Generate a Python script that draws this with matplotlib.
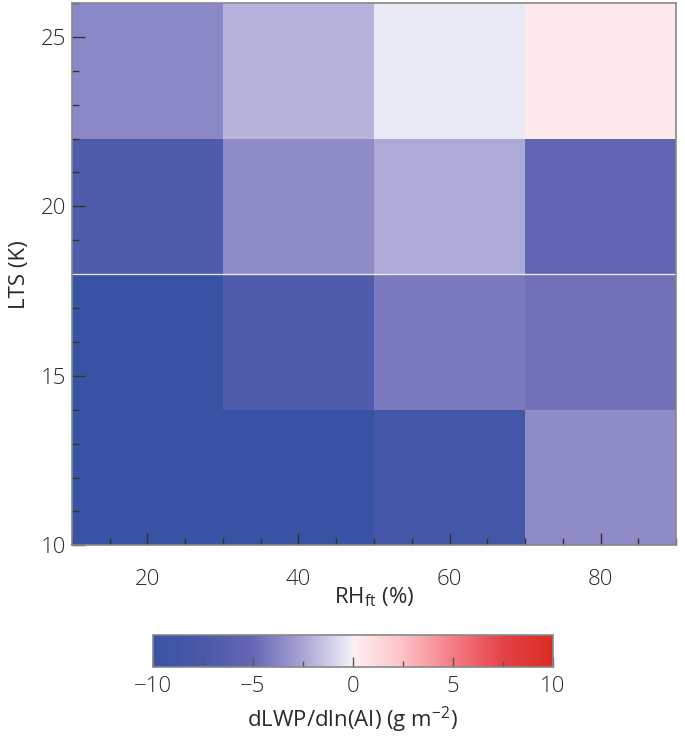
import numpy as np
import matplotlib
matplotlib.use("Agg")
import matplotlib.pyplot as plt
from matplotlib.colors import LinearSegmentedColormap, Normalize
from matplotlib.ticker import MultipleLocator

plt.rcParams['font.family'] = ['Open Sans', 'DejaVu Sans']
plt.rcParams['font.weight'] = 'light'
plt.rcParams['mathtext.fontset'] = 'custom'
plt.rcParams['mathtext.rm'] = 'Open Sans:light'

# Data
rh_edges = [10, 30, 50, 70, 90]          # RH_ft (%) bin edges
lts_edges = [10, 14, 18, 22, 26]         # LTS (K) bin edges
# rows: LTS bins from bottom (10-14) to top (22-26); columns: RH bins
sensitivity = [
    [-10.0, -10.0, -8.5, -3.5],
    [-10.0, -7.0, -4.2, -4.6],
    [-7.0, -3.5, -2.3, -5.2],
    [-3.6, -2.0, -0.3, 0.4],
]
x_ticks = [20, 40, 60, 80]
y_ticks = [10, 15, 20, 25]
cbar_ticks = [-10, -5, 0, 5, 10]

cmap_nodes = [
    (0.000, '#3953a4'),
    (0.125, '#4a58a9'),
    (0.250, '#6666b3'),
    (0.375, '#a8a4d5'),
    (0.497, '#f0eff8'),
    (0.503, '#fdeff2'),
    (0.625, '#fbc2c6'),
    (0.750, '#f47d85'),
    (0.875, '#e4424a'),
    (1.000, '#da2c22'),
]
cmap = LinearSegmentedColormap.from_list('bwr_custom', cmap_nodes, N=512)
norm = Normalize(vmin=-10, vmax=10)

fs = 16
tc = '#2a2a2a'
fig = plt.figure(figsize=(6.85, 7.45), dpi=100)
ax = fig.add_axes([0.105, 0.268, 0.882, 0.728])
mesh = ax.pcolormesh(rh_edges, lts_edges, np.array(sensitivity), cmap=cmap, norm=norm)
ax.axhline(18, color='white', lw=1.0, alpha=0.85)
ax.set_xlim(10, 90)
ax.set_ylim(10, 26)
ax.set_xticks(x_ticks)
ax.set_yticks(y_ticks)
ax.xaxis.set_minor_locator(MultipleLocator(5))
ax.yaxis.set_minor_locator(MultipleLocator(1))
ax.tick_params(which='both', direction='in', color='#333333', labelsize=fs, labelcolor=tc)
ax.tick_params(which='major', length=9, width=1)
ax.tick_params(which='minor', length=5, width=1)
ax.tick_params(axis='x', pad=17)
ax.tick_params(axis='y', pad=4)
for s in ax.spines.values():
    s.set_color('#888888')
    s.set_linewidth(1.2)
ax.set_xlabel('RH$_{\\mathregular{ft}}$ (%)', fontsize=fs, color=tc, labelpad=-3)
ax.set_ylabel('LTS (K)', fontsize=fs, color=tc, labelpad=8)

cax = fig.add_axes([0.223, 0.105, 0.584, 0.042])
cb = fig.colorbar(mesh, cax=cax, orientation='horizontal', ticks=cbar_ticks)
cb.ax.xaxis.set_minor_locator(MultipleLocator(2.5))
cb.ax.tick_params(which='both', direction='in', color='#555555', labelsize=fs, labelcolor=tc)
cb.ax.tick_params(which='major', length=7, width=1, pad=7)
cb.ax.tick_params(which='minor', length=4, width=1)
cb.outline.set_edgecolor('#888888')
cb.outline.set_linewidth(1.2)
cb.set_label('dLWP/dln(AI) (g m$^{\\mathregular{-2}}$)', fontsize=fs, color=tc, labelpad=5)

fig.savefig('out.png', dpi=100)
